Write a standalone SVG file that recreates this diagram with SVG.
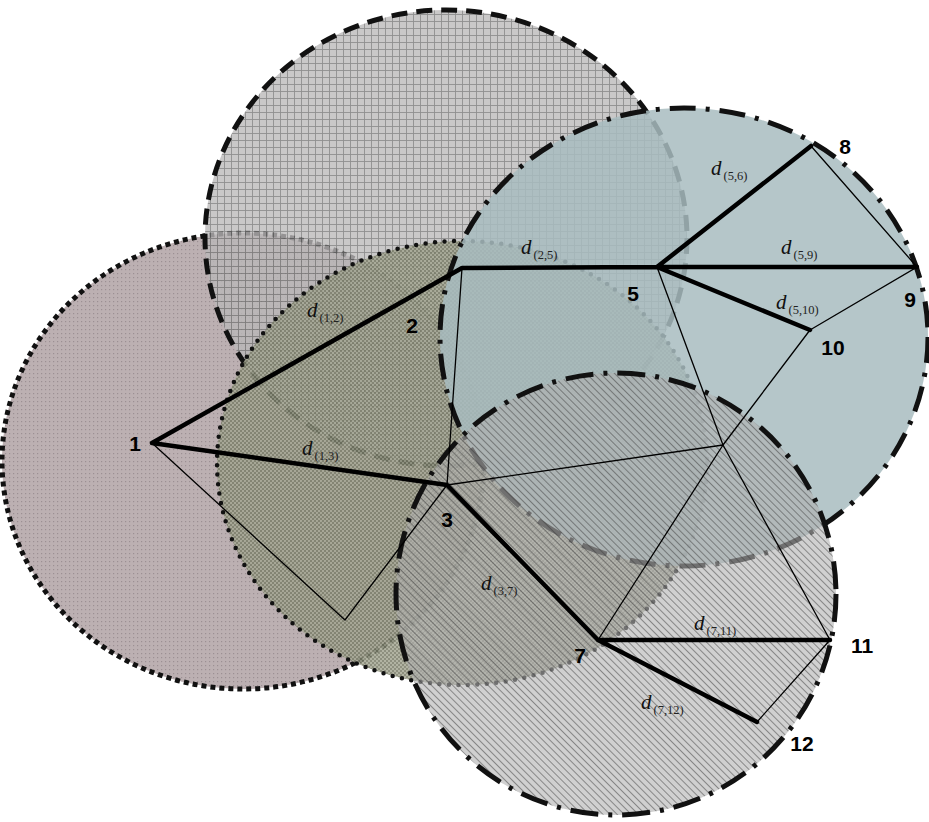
<svg xmlns="http://www.w3.org/2000/svg" width="929" height="822" viewBox="0 0 929 822">
<style>
.b{fill:none;stroke:#111}
.thick{stroke:#000;stroke-width:4.5;stroke-linecap:round;fill:none}
.thin{stroke:#000;stroke-width:1.3;fill:none}
.n{font-family:"Liberation Sans",Arial,sans-serif;font-weight:bold;font-size:21px;fill:#000;text-anchor:middle}
.d{font-family:"Liberation Serif","DejaVu Serif",serif;font-style:italic;font-size:21px;fill:#111}
.s{font-family:"Liberation Serif","DejaVu Serif",serif;font-style:normal;font-size:12.5px;fill:#222}
</style>
<defs>
<pattern id="pDots" width="4" height="4" patternUnits="userSpaceOnUse">
<rect width="4" height="4" fill="#bcb0b2"/>
<rect x="1" y="1" width="1.2" height="1.2" fill="#9c9093"/>
</pattern>
<pattern id="pGrid" width="7" height="7" patternUnits="userSpaceOnUse">
<rect width="7" height="7" fill="#bab8b9"/>
<path d="M0 0.5H7M0.5 0V7" stroke="#6f6f6f" stroke-width="0.9"/>
</pattern>
<pattern id="pCheck" width="4" height="4" patternUnits="userSpaceOnUse">
<rect width="4" height="4" fill="#7a7d69"/>
<rect width="2" height="2" fill="#a3a692"/>
<rect x="2" y="2" width="2" height="2" fill="#a3a692"/>
</pattern>
<pattern id="pHatch" width="5" height="5" patternUnits="userSpaceOnUse" patternTransform="rotate(-45)">
<line x1="0" y1="0" x2="0" y2="5" stroke="#3a3a3a" stroke-width="1.4"/>
</pattern>
</defs>

<g id="circle-pink">
<ellipse cx="243" cy="461" rx="241" ry="228" fill="url(#pDots)"/>
<ellipse class="b" cx="243" cy="461" rx="241" ry="228" stroke-width="5" stroke-dasharray="5 4"/>
</g>
<g id="circle-grid">
<ellipse cx="446" cy="238" rx="241" ry="228" fill="url(#pGrid)" fill-opacity="0.78"/>
<ellipse class="b" cx="446" cy="238" rx="241" ry="228" stroke-width="5" stroke-dasharray="16 9"/>
</g>
<g id="circle-olive">
<ellipse cx="462" cy="463" rx="245" ry="222" fill="url(#pCheck)" fill-opacity="0.85"/>
<ellipse class="b" cx="462" cy="463" rx="245" ry="222" stroke-width="4.5" stroke-linecap="round" stroke-dasharray="0 9.5"/>
</g>
<g id="circle-cyan">
<ellipse cx="684" cy="337" rx="244" ry="229" fill="#a8bcbf" fill-opacity="0.85"/>
<ellipse class="b" cx="684" cy="337" rx="244" ry="229" stroke-width="5" stroke-dasharray="26 10 4 10"/>
</g>
<g id="circle-hatch">
<ellipse cx="616" cy="594" rx="220" ry="221" fill="#b0b0b0" fill-opacity="0.6"/>
<ellipse cx="616" cy="594" rx="220" ry="221" fill="url(#pHatch)" fill-opacity="0.7"/>
<ellipse class="b" cx="616" cy="594" rx="220" ry="221" stroke-width="5" stroke-dasharray="28 10 4 10"/>
</g>

<g id="connectors">
<path class="thin" d="M152 443L345 620L447 485M462 268L447 485M447 485L723 445M657 267L723 445M723 445L810 330M723 445L598 640M723 445L830 640M811 146L917 267L810 330M830 640L757 722"/>
<path class="thick" d="M152 443L462 268M152 443L447 485M462 268L657 267M657 267L811 146M657 267L917 267M657 267L810 330M447 485L598 640M598 640L830 640M598 640L757 722"/>
</g>

<g id="node-1"><text class="n" x="135" y="451">1</text></g>
<g id="node-2"><text class="n" x="412" y="333">2</text></g>
<g id="node-3"><text class="n" x="447" y="527">3</text></g>
<g id="node-5"><text class="n" x="633" y="301">5</text></g>
<g id="node-7"><text class="n" x="580" y="663">7</text></g>
<g id="node-8"><text class="n" x="845" y="154">8</text></g>
<g id="node-9"><text class="n" x="910" y="307">9</text></g>
<g id="node-10"><text class="n" x="833" y="355">10</text></g>
<g id="node-11"><text class="n" x="862" y="653">11</text></g>
<g id="node-12"><text class="n" x="802" y="751">12</text></g>

<g id="edge-labels">
<text class="d" x="307" y="317">d<tspan class="s" dx="2" dy="5">(1,2)</tspan></text>
<text class="d" x="302" y="455">d<tspan class="s" dx="2" dy="5">(1,3)</tspan></text>
<text class="d" x="521" y="254">d<tspan class="s" dx="2" dy="5">(2,5)</tspan></text>
<text class="d" x="711" y="175">d<tspan class="s" dx="2" dy="5">(5,6)</tspan></text>
<text class="d" x="781" y="254">d<tspan class="s" dx="2" dy="5">(5,9)</tspan></text>
<text class="d" x="776" y="309">d<tspan class="s" dx="2" dy="5">(5,10)</tspan></text>
<text class="d" x="481" y="590">d<tspan class="s" dx="2" dy="5">(3,7)</tspan></text>
<text class="d" x="694" y="630">d<tspan class="s" dx="2" dy="5">(7,11)</tspan></text>
<text class="d" x="641" y="709">d<tspan class="s" dx="2" dy="5">(7,12)</tspan></text>
</g>
</svg>
